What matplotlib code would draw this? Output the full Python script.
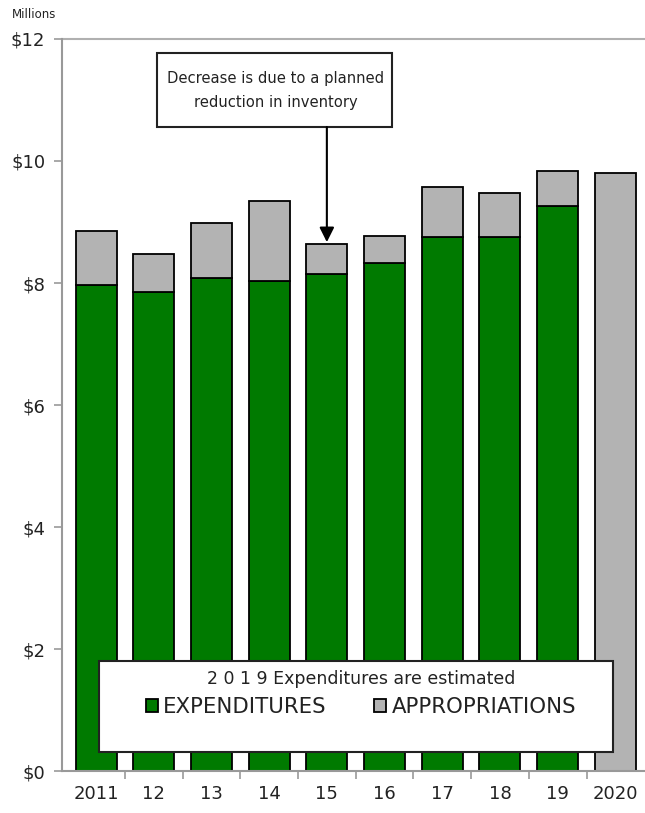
import numpy as np
import matplotlib
matplotlib.use('Agg')
import matplotlib.pyplot as plt
from matplotlib.patches import Rectangle
from matplotlib.ticker import FixedLocator

anos = ['2011', '12', '13', '14', '15', '16', '17', '18', '19', '2020']
despesas = [7.97, 7.85, 8.08, 8.04, 8.14, 8.32, 8.75, 8.75, 9.26, 0.0]
dotacoes = [8.86, 8.48, 8.99, 9.35, 8.64, 8.77, 9.57, 9.48, 9.83, 9.80]
y_ticks = [0, 2, 4, 6, 8, 10, 12]

verde = '#007a00'
cinza = '#b3b3b3'
eixo = '#999999'

fig = plt.figure(figsize=(6.45, 8.13), dpi=100)
ax = fig.add_axes([62 / 645, 1 - 771 / 813, (650 - 62) / 645, (771 - 39) / 813])

x = np.arange(len(anos))
resto = [d - e for d, e in zip(dotacoes, despesas)]
ax.bar(x, despesas, width=0.71, color=verde, edgecolor='black', linewidth=1.3,
       label='EXPENDITURES', zorder=2)
ax.bar(x, resto, bottom=despesas, width=0.71, color=cinza, edgecolor='black',
       linewidth=1.3, label='APPROPRIATIONS', zorder=2)

ax.set_ylim(0, 12)
ax.set_xlim(-0.59, 9.6)
ax.set_yticks(y_ticks)
ax.set_yticklabels([f'${v}' for v in y_ticks], fontsize=13, color='#222222')
ax.set_xticks(x)
ax.set_xticklabels(anos, fontsize=13, color='#222222')
ax.xaxis.set_minor_locator(FixedLocator(x[:-1] + 0.5))
ax.tick_params(axis='x', which='major', length=0, pad=10)
ax.tick_params(axis='x', which='minor', length=6, color=eixo, width=1.2)
ax.tick_params(axis='y', length=6, color=eixo, width=1.2, pad=6)

for s in ['right', 'top']:
    ax.spines[s].set_visible(False)
for s in ['left', 'bottom']:
    ax.spines[s].set_color(eixo)
    ax.spines[s].set_linewidth(1.5)
ax.axhline(12, color='#b0b0b0', linewidth=1.5, clip_on=False)

fig.text(12 / 645, 1 - 15 / 813, 'Millions', fontsize=8.5, color='#222222',
         va='center', ha='left')

# caixa de anotação (deslocada para a esquerda da seta, como no original)
ax.add_patch(Rectangle(((157 - 62) / 588, (771 - 127) / 732), 235 / 588, 74 / 732,
                       transform=ax.transAxes, fc='white', ec='#222222', lw=1.5,
                       zorder=5, clip_on=False))
ax.text((276 - 62) / 588, (771 - 90) / 732,
        'Decrease is due to a planned\nreduction in inventory',
        transform=ax.transAxes, ha='center', va='center', fontsize=10.6,
        color='#222222', zorder=6, linespacing=1.75)
ax.annotate('', xy=(4, dotacoes[4] + 0.03), xytext=(4, (771 - 127) / 61),
            arrowprops=dict(arrowstyle='-|>', color='black', lw=1.5,
                            mutation_scale=22, shrinkA=0, shrinkB=0),
            zorder=5)

# caixa da legenda
ax.add_patch(Rectangle(((99 - 62) / 588, (771 - 752) / 732), 514 / 588, 91 / 732,
                       transform=ax.transAxes, fc='white', ec='#222222', lw=1.5,
                       zorder=5))
leg = ax.legend(loc='upper center', bbox_to_anchor=((361 - 62) / 588, (771 - 659) / 732),
                ncol=2, frameon=False, fontsize=15.3,
                title='2 0 1 9 Expenditures are estimated', title_fontsize=12.5,
                handlelength=0.55, handleheight=0.55, handletextpad=0.25,
                borderpad=0.0, columnspacing=2.25, labelspacing=0.45)
leg.get_title().set_color('#222222')
for t in leg.get_texts():
    t.set_color('#222222')
leg.set_zorder(6)

fig.savefig('out.png', dpi=100)
